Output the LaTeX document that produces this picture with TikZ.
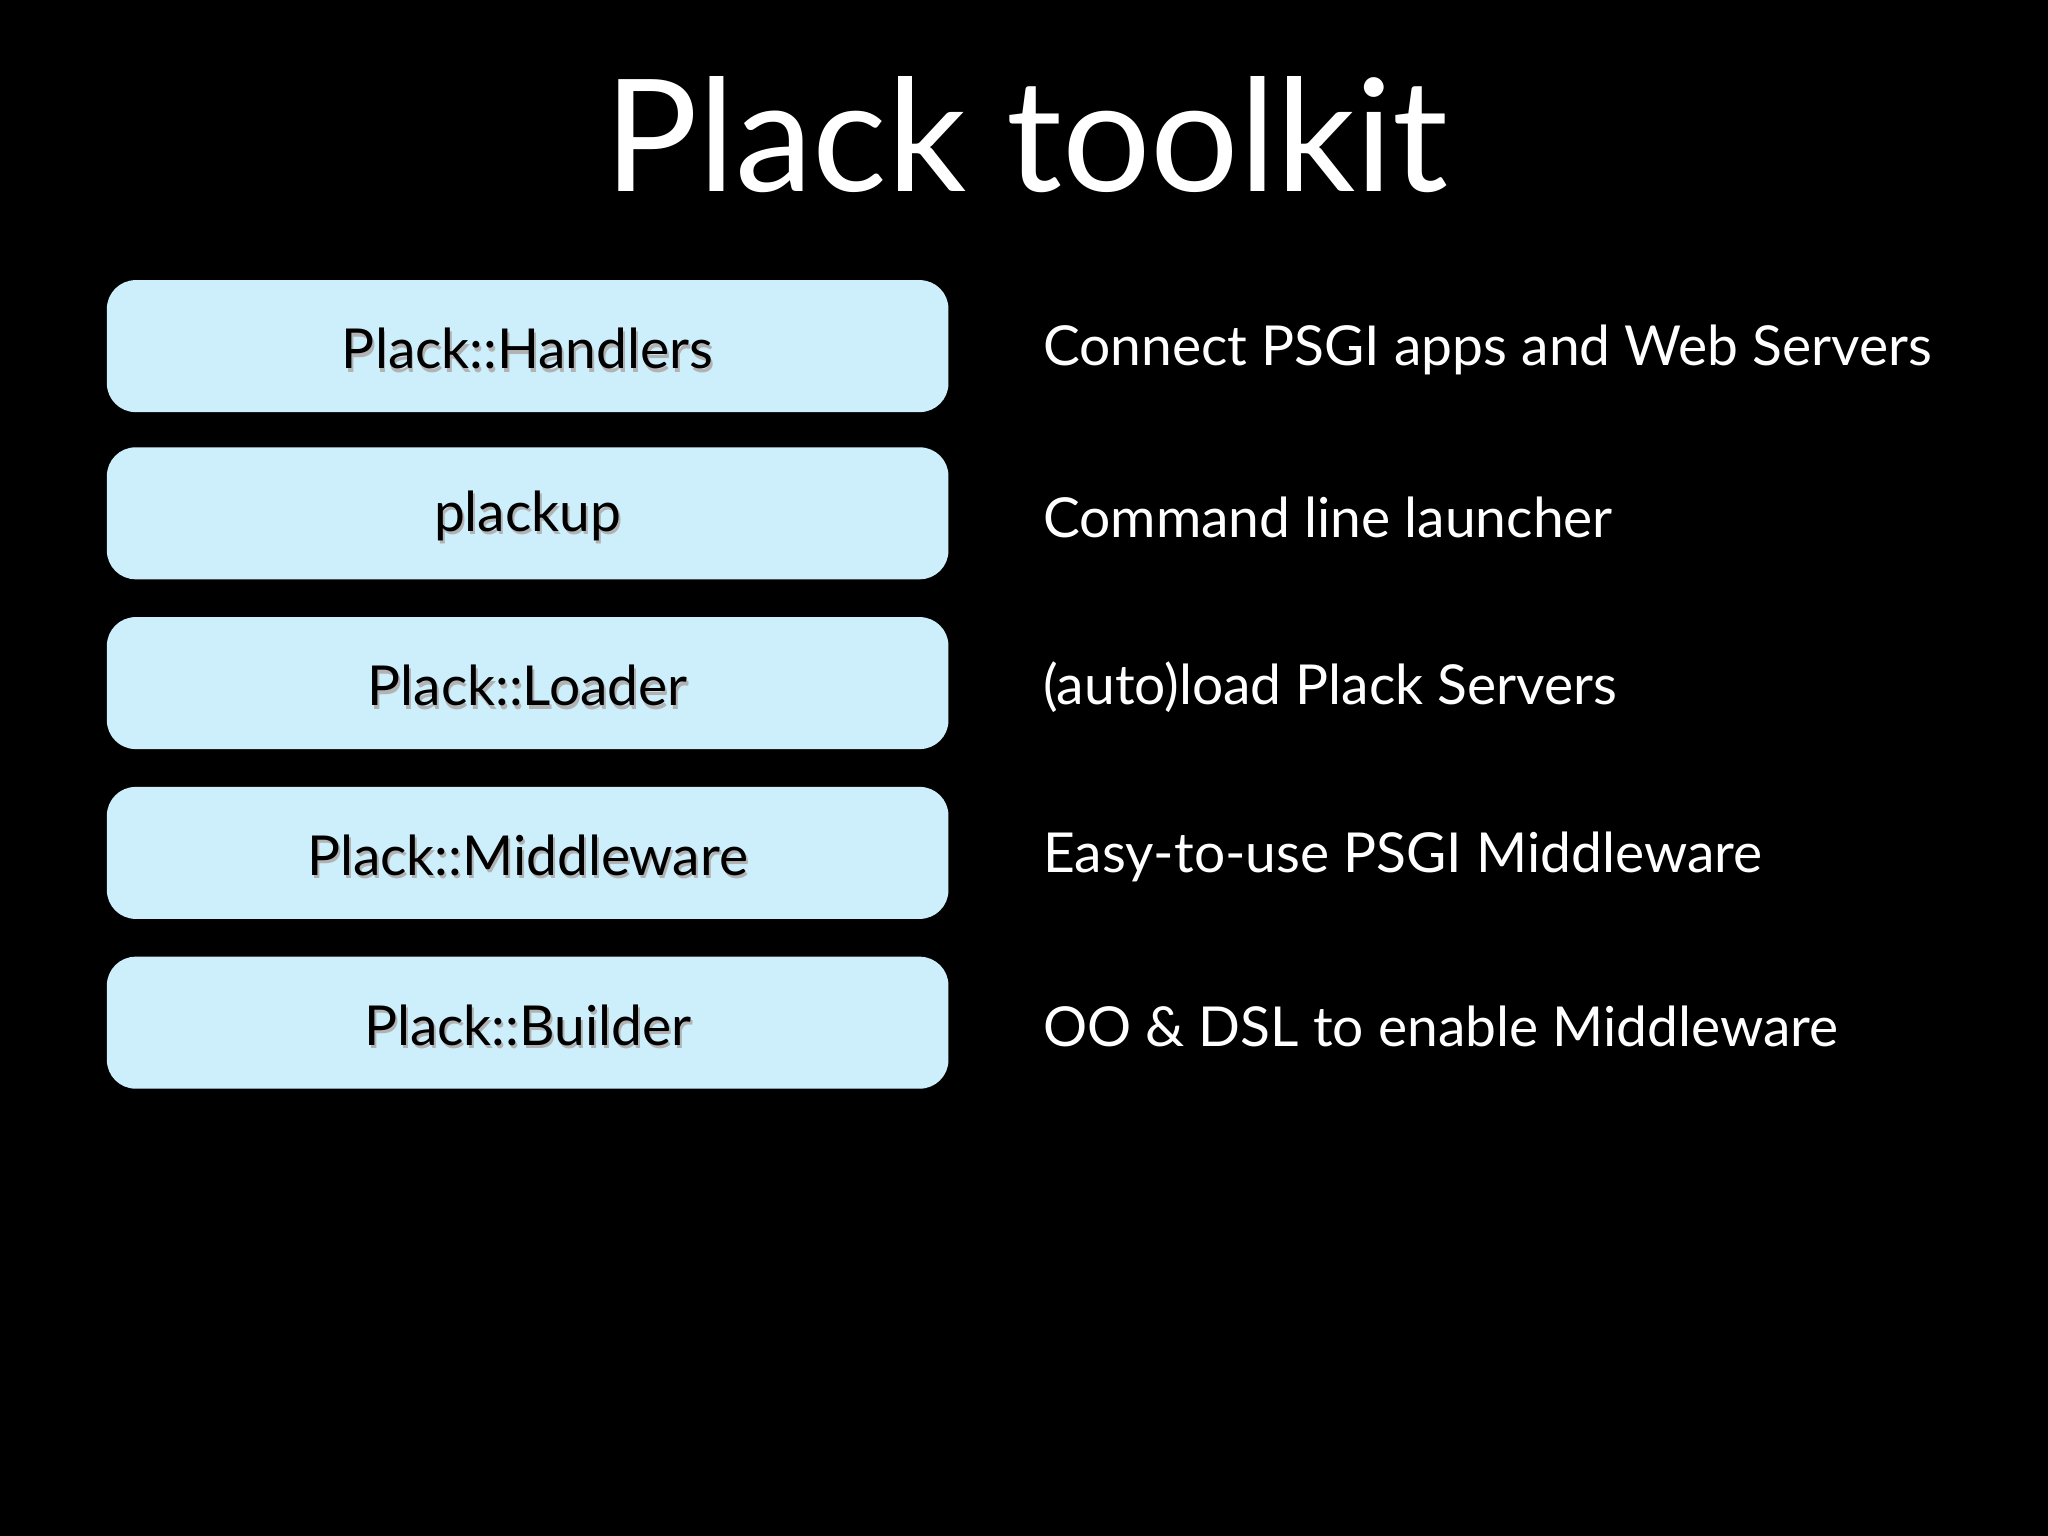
\documentclass[tikz,border=0pt]{standalone}
\usepackage{fontspec}
\setmainfont{Lato}
\definecolor{boxblue}{HTML}{CDEEFB}
\begin{document}
\begin{tikzpicture}[x=0.01cm,y=-0.01cm,
  bx/.style={fill=boxblue,rounded corners=0.22cm,minimum width=6.44cm,minimum height=1.01cm,inner sep=0pt,font=\fontsize{12pt}{15pt}\selectfont,text=black},
  desc/.style={anchor=west,inner sep=0pt,text=white,font=\fontsize{12pt}{15pt}\selectfont}]
\fill[black] (0,0) rectangle (1568,1176);
\useasboundingbox (0,0) rectangle (1568,1176);
\node[text=white,font=\fontsize{34pt}{40pt}\selectfont] (title) at (786,103) {Plack toolkit};
\foreach \n/\y/\t/\d in {a/265/Plack::Handlers/Connect PSGI apps and Web Servers,
  b/393/plackup/Command line launcher,
  c/523/Plack::Loader/(auto)load Plack Servers,
  d/653/Plack::Middleware/Easy-to-use PSGI Middleware,
  e/783/Plack::Builder/OO \& DSL to enable Middleware}{
  \node[bx] (box\n) at (404,\y) {};
  \node[text=black!30,font=\fontsize{12pt}{15pt}\selectfont] at (405.5,\y+4.5) {\t};
  \node[font=\fontsize{12pt}{15pt}\selectfont,text=black] (lab\n) at (404,\y+2) {\t};
  \node[desc] (desc\n) at (798,\y+3) {\d};
}
\end{tikzpicture}
\end{document}
